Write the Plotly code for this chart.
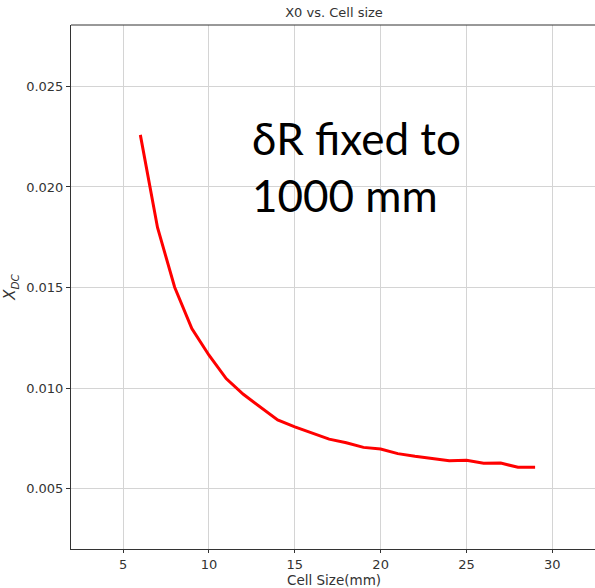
import plotly.graph_objects as go

cell_size = [6, 7, 8, 9, 10, 11, 12, 13, 14, 15, 16, 17, 18, 19, 20, 21, 22, 23, 24, 25, 26, 27, 28, 29]
x_dc = [0.02259, 0.01799, 0.01502, 0.01296, 0.01164, 0.01048, 0.00970, 0.00905, 0.00842, 0.00808,
        0.00779, 0.00747, 0.00729, 0.00706, 0.00698, 0.00675, 0.00662, 0.00651, 0.00640, 0.00642,
        0.00627, 0.00628, 0.00607, 0.00607]
x_ticks = [5, 10, 15, 20, 25, 30]
y_ticks = [0.005, 0.010, 0.015, 0.020, 0.025]
y_tick_labels = ["0.005", "0.010", "0.015", "0.020", "0.025"]

fig = go.Figure()
fig.add_trace(go.Scatter(x=cell_size, y=x_dc, mode="lines",
                         line=dict(color="#ff0000", width=3), showlegend=False))

tick_font = dict(family="DejaVu Sans", size=13, color="#333333")
label_font = dict(family="DejaVu Sans", size=13.5, color="#333333")
fig.update_layout(
    width=595, height=588,
    margin=dict(l=71, r=0, t=25, b=39, pad=0, autoexpand=False),
    plot_bgcolor="white", paper_bgcolor="white",
    title=dict(text="X0 vs. Cell size", x=(71 + 597) / 2 / 595, xanchor="center",
               y=1 - 12 / 588, yanchor="middle", yref="container",
               font=dict(family="DejaVu Sans", size=13, color="#333333")),
    xaxis=dict(range=[1.96, 32.49], tickvals=x_ticks, ticks="outside", ticklen=3,
               tickcolor="#333333", showline=True, linecolor="#333333", linewidth=1,
               mirror=False, showgrid=True, gridcolor="#d4d4d4", gridwidth=1,
               zeroline=False, tickfont=tick_font, automargin=False),
    yaxis=dict(range=[0.00201, 0.02805], tickvals=y_ticks, ticktext=y_tick_labels,
               ticks="outside", ticklen=4, tickcolor="#333333", showline=True,
               linecolor="#333333", linewidth=1, mirror=False, showgrid=True,
               gridcolor="#d4d4d4", gridwidth=1, zeroline=False, tickfont=tick_font,
               automargin=False,
               title=dict(text="<i>X</i><sub><i>DC</i></sub>",
                          font=dict(family="DejaVu Sans", size=15, color="#333333"), standoff=6)),
)

# top spine
fig.add_shape(type="line", xref="paper", yref="paper", x0=0, x1=1, y0=1, y1=1,
              line=dict(color="#333333", width=1))

# x-axis label
fig.add_annotation(text="Cell Size(mm)", xref="paper", yref="paper",
                   x=(334 - 71) / 524, y=-(589 - 549) / 524, xanchor="center", yanchor="bottom",
                   showarrow=False, borderpad=0, font=label_font)

fig.add_annotation(text="δR fixed to<br>1000 mm", xref="paper", yref="paper",
                   x=(250 - 71) / 524, y=1 - (110 - 25) / 524, xanchor="left", yanchor="top",
                   showarrow=False, align="left",
                   font=dict(family="Lato", size=44, color="black"))

fig.write_html("out.html")
